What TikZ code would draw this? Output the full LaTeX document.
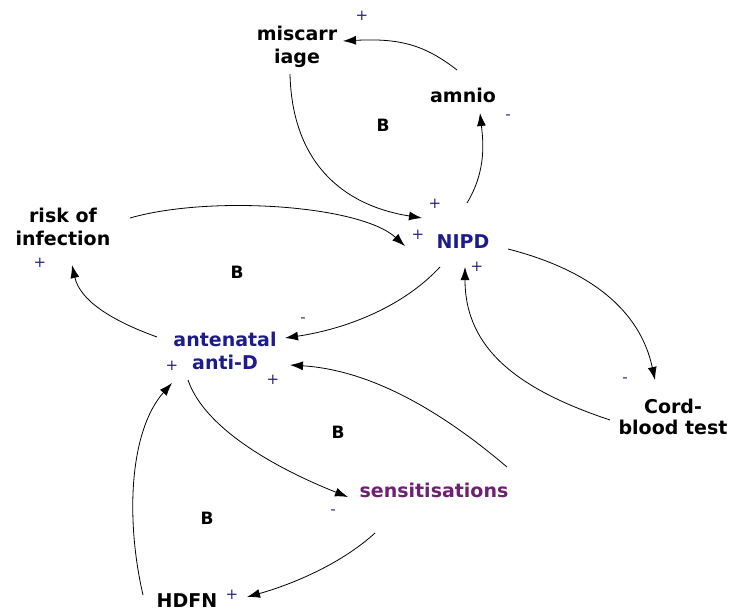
\documentclass[tikz,border=0pt]{standalone}
\usepackage{fontspec}
\setmainfont{DejaVu Sans}
\usetikzlibrary{arrows.meta}
\definecolor{varblue}{RGB}{28,28,140}
\definecolor{varpurple}{RGB}{112,32,112}
\definecolor{signblue}{RGB}{40,40,130}
\tikzset{
  var/.style={font=\bfseries\fontsize{19}{23}\selectfont, align=center, inner sep=0pt, text=black},
  bluevar/.style={var, text=varblue},
  purplevar/.style={var, text=varpurple},
  looplabel/.style={font=\bfseries\fontsize{17}{20}\selectfont, inner sep=0pt},
  sign/.style={font=\fontsize{15}{17}\selectfont, text=signblue, inner sep=0pt},
  link/.style={line width=0.8pt, -{Latex[length=13pt,width=9pt]}},
}
\begin{document}
\begin{tikzpicture}[x=1pt,y=-1pt]
\useasboundingbox (0,0) rectangle (732,613);
% variables
\node[var] (mis) at (297,47) {miscarr\\iage};
\node[var] (amn) at (463,95) {amnio};
\node[bluevar] (nipd) at (463,242) {NIPD};
\node[var] (risk) at (63,227) {risk of\\infection};
\node[bluevar] (ante) at (225,351) {antenatal\\anti-D};
\node[var,font=\bfseries\fontsize{19}{21}\selectfont] (cord) at (673,417) {Cord-\\blood test};
\node[purplevar] (sens) at (434,490) {sensitisations};
\node[var] (hdfn) at (187,601) {HDFN};
% loop labels
\node[looplabel] (b1) at (383,125) {B};
\node[looplabel] (b2) at (237,272) {B};
\node[looplabel] (b3) at (338,432) {B};
\node[looplabel] (b4) at (207,518) {B};
% polarity signs
\node[sign] (s1) at (362,16) {+};
\node[sign] (s2) at (508,117) {-};
\node[sign] (s3) at (435,204) {+};
\node[sign] (s4) at (418,235) {+};
\node[sign] (s5) at (477,267) {+};
\node[sign] (s6) at (625,380) {-};
\node[sign] (s7) at (303,320) {-};
\node[sign] (s8) at (40,263) {+};
\node[sign] (s9) at (172,366) {+};
\node[sign] (s10) at (273,380) {+};
\node[sign] (s11) at (333,512) {-};
\node[sign] (s12) at (232,595) {+};
% links
\draw[link] ([shift={(-6,-25)}]amn.center) .. controls +(-32,-25) and +(57,-3) .. ([shift={(46,-6)}]mis.center);
\draw[link] ([shift={(-7,27)}]mis.center) .. controls +(2,86) and +(-82,-13) .. ([shift={(-41,-24)}]nipd.center);
\draw[link] ([shift={(4,-39)}]nipd.center) .. controls +(20,-33) and +(3,27) .. ([shift={(17,18)}]amn.center);
\draw[link] ([shift={(67,-9)}]risk.center) .. controls +(80,-23) and +(-45,-41) .. ([shift={(-58,4)}]nipd.center);
\draw[link] ([shift={(-23,25)}]nipd.center) .. controls +(-40,43) and +(55,-8) .. ([shift={(60,-13)}]ante.center);
\draw[link] ([shift={(45,7)}]nipd.center) .. controls +(82,21) and +(-15,-70) .. ([shift={(-18,-37)}]cord.center);
\draw[link] ([shift={(-63,3)}]cord.center) .. controls +(-90,-30) and +(0,83) .. ([shift={(2,25)}]nipd.center);
\draw[link] ([shift={(-68,-14)}]ante.center) .. controls +(-47,-17) and +(8,35) .. ([shift={(9,38)}]risk.center);
\draw[link] ([shift={(73,-23)}]sens.center) .. controls +(-67,-57) and +(80,5) .. ([shift={(65,14)}]ante.center);
\draw[link] ([shift={(-37,29)}]ante.center) .. controls +(17,50) and +(-68,-27) .. ([shift={(-86,7)}]sens.center);
\draw[link] ([shift={(-59,43)}]sens.center) .. controls +(-35,32) and +(43,-12) .. ([shift={(60,-4)}]hdfn.center);
\draw[link] ([shift={(-44,-6)}]hdfn.center) .. controls +(-18,-78) and +(-42,47) .. ([shift={(-53,32)}]ante.center);
\end{tikzpicture}
\end{document}
